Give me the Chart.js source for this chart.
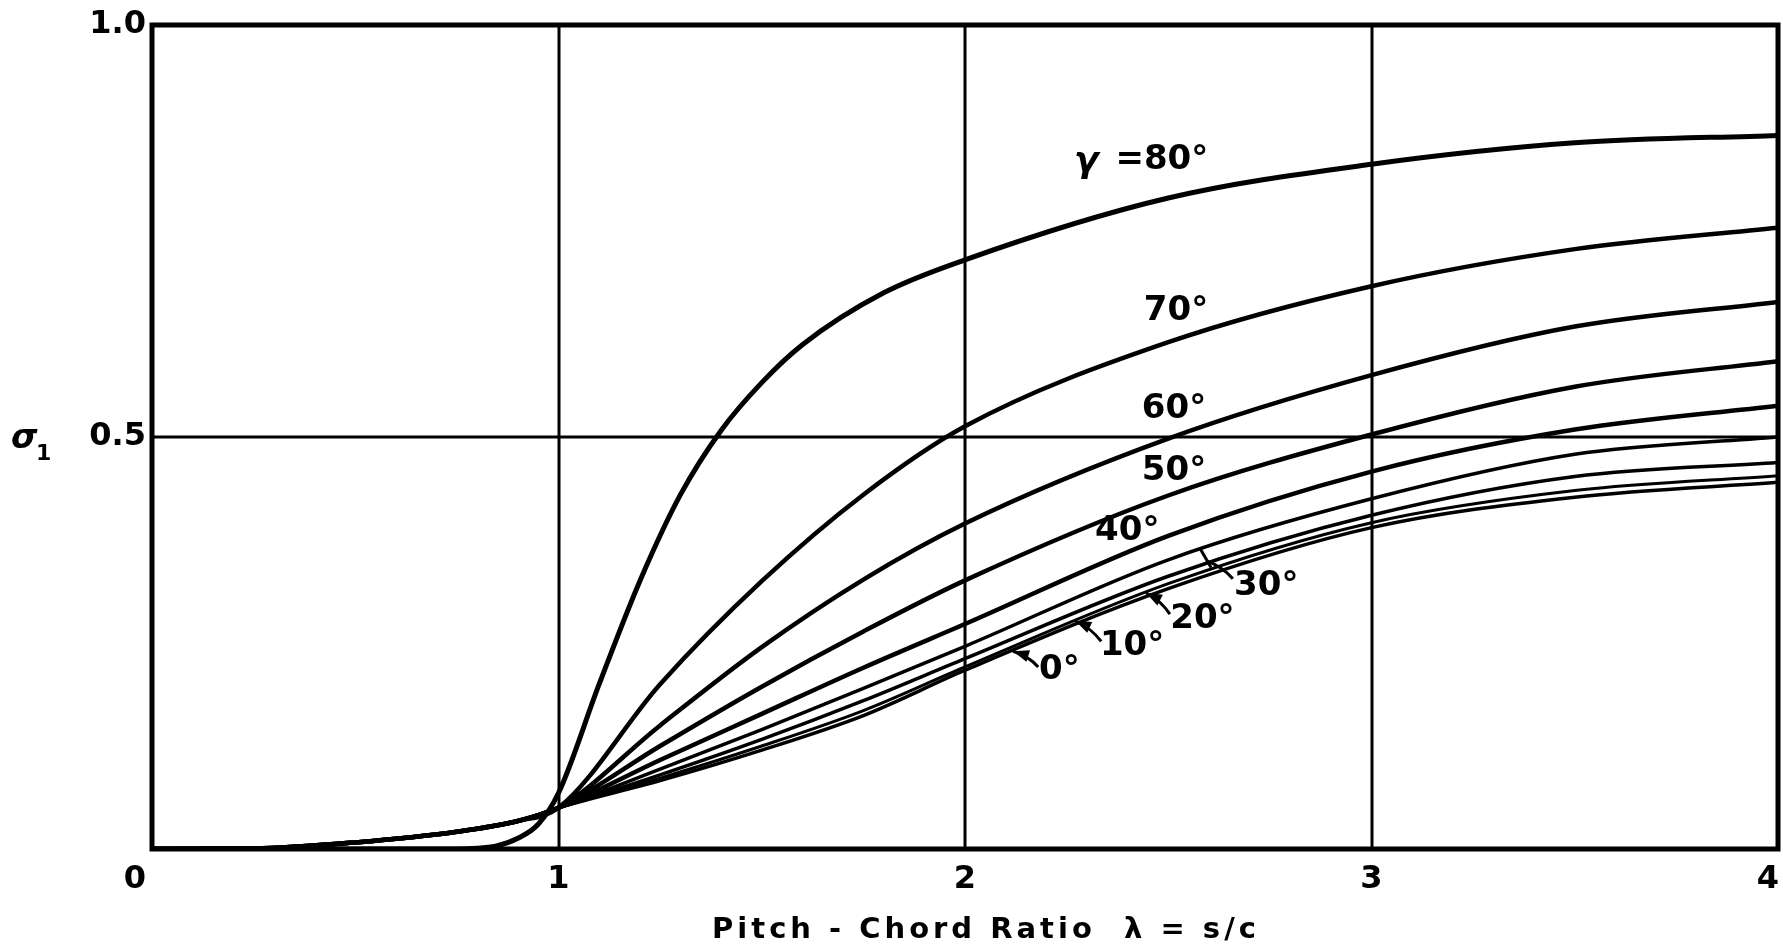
<!DOCTYPE html>
<html>
<head>
<meta charset="utf-8">
<title>Pitch - Chord Ratio</title>
<script src="https://cdn.jsdelivr.net/npm/chart.js@4.4.1/dist/chart.umd.min.js"></script>
<style>
  html, body { margin: 0; padding: 0; background: #fff; }
  #wrap { width: 1783px; height: 949px; }
</style>
</head>
<body>
<div id="wrap"><canvas id="chart" width="1783" height="949"></canvas></div>
<script>
// pitch-chord ratio λ = s/c, sample points for the 0°..70° curves
const lambda = [0, 0.25, 0.5, 0.75, 0.9, 1.0, 1.25, 1.5, 1.75, 2.0, 2.5, 3.0, 3.5, 4.0];

const sigma0  = [0, 0.0005, 0.008, 0.021, 0.034, 0.05, 0.083, 0.120, 0.162, 0.217, 0.316, 0.390, 0.427, 0.445];
const sigma10 = [0, 0.0005, 0.008, 0.021, 0.034, 0.05, 0.086, 0.125, 0.168, 0.221, 0.322, 0.396, 0.435, 0.453];
const sigma20 = [0, 0.0005, 0.008, 0.021, 0.034, 0.05, 0.090, 0.133, 0.180, 0.231, 0.331, 0.405, 0.452, 0.469];
const sigma30 = [0, 0.0005, 0.008, 0.021, 0.034, 0.05, 0.097, 0.145, 0.195, 0.246, 0.351, 0.425, 0.479, 0.500];
const sigma40 = [0, 0.0005, 0.008, 0.021, 0.034, 0.05, 0.108, 0.164, 0.220, 0.273, 0.380, 0.458, 0.509, 0.538];
const sigma50 = [0, 0.0005, 0.008, 0.021, 0.034, 0.05, 0.125, 0.197, 0.264, 0.326, 0.429, 0.503, 0.561, 0.592];
const sigma60 = [0, 0.0005, 0.008, 0.021, 0.034, 0.05, 0.150, 0.245, 0.327, 0.395, 0.498, 0.575, 0.634, 0.664];
const sigma70 = [0, 0.0005, 0.008, 0.021, 0.034, 0.05, 0.200, 0.325, 0.430, 0.513, 0.615, 0.683, 0.728, 0.754];

// the 80° curve stays at zero until ~0.77 and then climbs steeply
const lambda80 = [0, 0.5, 0.75, 0.8, 0.85, 0.9, 0.95, 1.0, 1.1, 1.2, 1.3, 1.4, 1.5, 1.6, 1.8, 2.0, 2.5, 3.0, 3.5, 4.0];
const sigma80  = [0, 0, 0, 0.001, 0.004, 0.013, 0.03, 0.068, 0.2, 0.325, 0.43, 0.508, 0.566, 0.612, 0.675, 0.715, 0.79, 0.831, 0.857, 0.866];

const xTicks = [0, 1, 2, 3, 4];
const yTicks = [0.5, 1.0];
const yTickLabels = ['0.5', '1.0'];
const gridX = [1, 2, 3];
const gridY = [0.5];

// curve labels: text, λ, σ (left / baseline)
const curveLabels = [
    ['70°', 2.440, 0.642],
    ['60°', 2.435, 0.523],
    ['50°', 2.435, 0.448],
    ['40°', 2.320, 0.375],
    ['30°', 2.662, 0.308],
    ['20°', 2.505, 0.268],
    ['10°', 2.332, 0.235],
    ['0°',  2.182, 0.206]
];
// leaders from label to curve: [λ0, σ0, λ1, σ1, arrow?]
const leaders = [
    [2.180, 0.221, 2.118, 0.240, true],
    [2.335, 0.252, 2.271, 0.277, true],
    [2.504, 0.285, 2.445, 0.311, true],
    [2.659, 0.328, 2.593, 0.350, false]
];

function pts(xs, ys) {
    return xs.map((v, i) => ({ x: v, y: ys[i] }));
}

function curve(label, xs, ys, width) {
    return {
        label,
        data: pts(xs, ys),
        borderColor: '#000',
        borderWidth: width,
        pointRadius: 0,
        cubicInterpolationMode: 'monotone',
        fill: false
    };
}

const FONT = '"DejaVu Sans", "Liberation Sans", sans-serif';

const paper = {
    id: 'paper',
    beforeDatasetsDraw(chart) {
        const { ctx, chartArea: a, scales: { x, y } } = chart;
        ctx.save();
        ctx.strokeStyle = '#000';
        ctx.lineWidth = 3;
        ctx.beginPath();
        gridX.forEach(v => {
            const px = Math.round(x.getPixelForValue(v));
            ctx.moveTo(px, a.top); ctx.lineTo(px, a.bottom);
        });
        gridY.forEach(v => {
            const py = Math.round(y.getPixelForValue(v));
            ctx.moveTo(a.left, py); ctx.lineTo(a.right, py);
        });
        ctx.stroke();
        ctx.restore();
    },
    afterDatasetsDraw(chart) {
        const { ctx, chartArea: a, scales: { x, y } } = chart;
        ctx.save();
        ctx.strokeStyle = '#000';
        ctx.fillStyle = '#000';

        // frame
        ctx.lineWidth = 5;
        ctx.strokeRect(a.left, a.top, a.right - a.left, a.bottom - a.top);

        // tick labels
        ctx.font = 'bold 32px ' + FONT;
        ctx.textBaseline = 'middle';
        xTicks.forEach(v => {
            let px = x.getPixelForValue(v);
            ctx.textAlign = 'center';
            if (v === xTicks[0]) px -= 17;
            if (v === xTicks[xTicks.length - 1]) { ctx.textAlign = 'right'; px += 1; }
            ctx.fillText(String(v), px, a.bottom + 31);
        });
        ctx.textAlign = 'right';
        yTicks.forEach((v, i) => {
            ctx.fillText(yTickLabels[i], a.left - 6, y.getPixelForValue(v));
        });

        // axis titles
        ctx.textAlign = 'left';
        ctx.textBaseline = 'alphabetic';
        ctx.font = 'italic bold 34px ' + FONT;
        ctx.fillText('σ', 11, 448);
        ctx.font = 'bold 22px ' + FONT;
        ctx.fillText('1', 36, 460);

        ctx.font = 'bold 29px ' + FONT;
        ctx.letterSpacing = '4px';
        ctx.textAlign = 'center';
        ctx.textBaseline = 'middle';
        ctx.fillText('Pitch - Chord Ratio  λ = s/c', 986, 930);
        ctx.letterSpacing = '0px';

        // curve labels
        ctx.textAlign = 'left';
        ctx.textBaseline = 'alphabetic';
        ctx.font = 'italic bold 36px ' + FONT;
        ctx.fillText('γ', x.getPixelForValue(2.268), y.getPixelForValue(0.822));
        ctx.font = 'bold 34px ' + FONT;
        ctx.fillText('=80°', x.getPixelForValue(2.37), y.getPixelForValue(0.825));
        curveLabels.forEach(([t, lx, ly]) => {
            ctx.fillText(t, x.getPixelForValue(lx), y.getPixelForValue(ly));
        });

        // leaders
        ctx.lineWidth = 3;
        leaders.forEach(([l0, s0, l1, s1, arrow]) => {
            const x0 = x.getPixelForValue(l0), y0 = y.getPixelForValue(s0);
            const x1 = x.getPixelForValue(l1), y1 = y.getPixelForValue(s1);
            const mx = (x0 + x1) / 2 + 3, my = (y0 + y1) / 2 - 3;
            ctx.beginPath();
            ctx.moveTo(x0, y0);
            ctx.quadraticCurveTo(mx, my, x1, y1);
            ctx.stroke();
            if (arrow) {
                const ang = Math.atan2(y1 - my, x1 - mx);
                const L = 16, W = 6;
                ctx.beginPath();
                ctx.moveTo(x1, y1);
                ctx.lineTo(x1 - L * Math.cos(ang) + W * Math.sin(ang), y1 - L * Math.sin(ang) - W * Math.cos(ang));
                ctx.lineTo(x1 - L * Math.cos(ang) - W * Math.sin(ang), y1 - L * Math.sin(ang) + W * Math.cos(ang));
                ctx.closePath();
                ctx.fill();
            } else {
                ctx.beginPath();
                ctx.moveTo(x1 - 6, y1 - 12);
                ctx.lineTo(x1 + 5, y1 + 7);
                ctx.stroke();
            }
        });
        ctx.restore();
    }
};

new Chart(document.getElementById('chart'), {
    type: 'line',
    data: {
        datasets: [
            curve('0°', lambda, sigma0, 3.5),
            curve('10°', lambda, sigma10, 3),
            curve('20°', lambda, sigma20, 3.5),
            curve('30°', lambda, sigma30, 3.5),
            curve('40°', lambda, sigma40, 4.5),
            curve('50°', lambda, sigma50, 4.5),
            curve('60°', lambda, sigma60, 4.5),
            curve('70°', lambda, sigma70, 4.5),
            curve('80°', lambda80, sigma80, 5)
        ]
    },
    options: {
        responsive: false,
        animation: false,
        devicePixelRatio: 1,
        layout: { padding: { left: 152, right: 5, top: 25, bottom: 100 } },
        plugins: { legend: { display: false }, tooltip: { enabled: false } },
        scales: {
            x: { type: 'linear', min: 0, max: 4, display: false },
            y: { type: 'linear', min: 0, max: 1, display: false }
        }
    },
    plugins: [paper]
});
</script>
</body>
</html>
